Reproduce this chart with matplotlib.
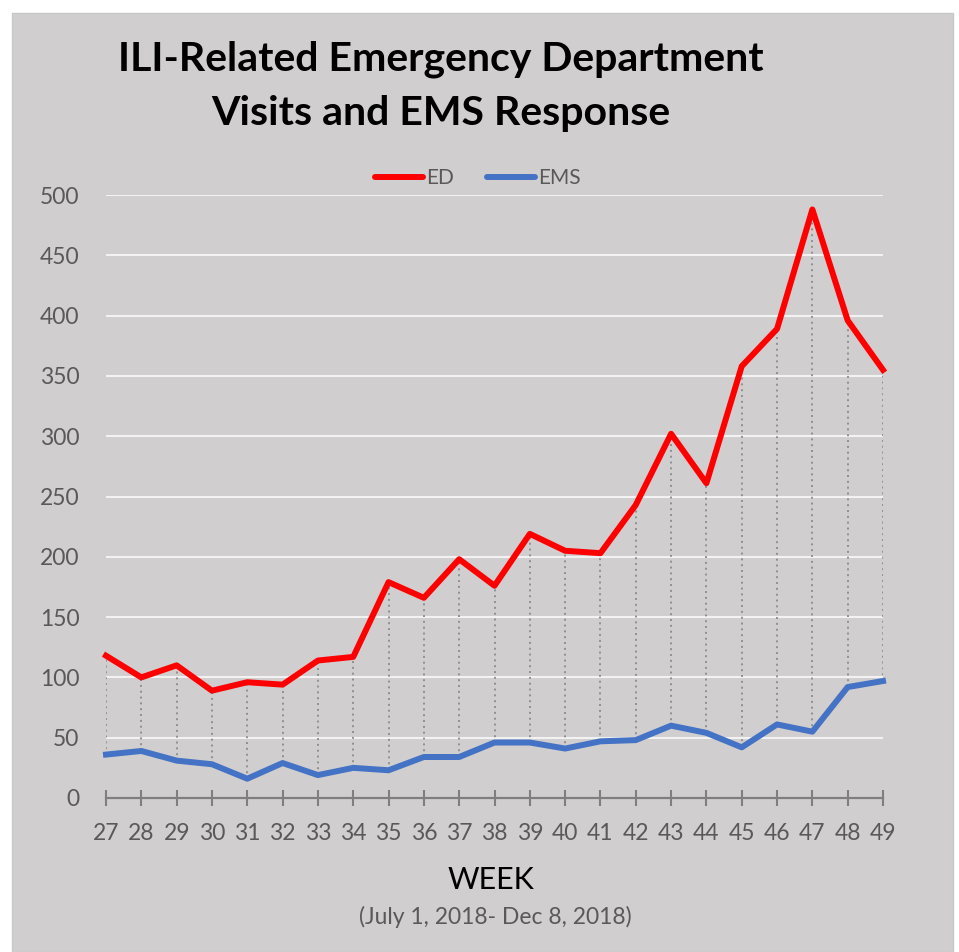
import matplotlib
matplotlib.use("Agg")
import matplotlib.pyplot as plt
from matplotlib.patches import Rectangle

weeks = list(range(27, 50))
ed = [118, 100, 110, 89, 96, 94, 114, 117, 179, 166, 198, 176, 219, 205, 203,
      243, 302, 261, 358, 389, 488, 396, 355]
ems = [36, 39, 31, 28, 16, 29, 19, 25, 23, 34, 34, 46, 46, 41, 47,
       48, 60, 54, 42, 61, 55, 92, 97]
yticks = [0, 50, 100, 150, 200, 250, 300, 350, 400, 450, 500]
title_lines = ["ILI-Related Emergency Department", "Visits and EMS Response"]
xlabel = "WEEK"
subtitle = "(July 1, 2018- Dec 8, 2018)"

plt.rcParams['font.family'] = ['Lato', 'DejaVu Sans']

W, H = 959, 952
fig = plt.figure(figsize=(W / 100, H / 100), dpi=100, facecolor='white')
bg = '#D0CECE'
fig.patches.append(Rectangle((12 / W, 0), (953 - 12) / W, 1 - 13 / H,
                             transform=fig.transFigure, facecolor=bg,
                             edgecolor='#C8C8C8', linewidth=1, zorder=-10))

ax = fig.add_axes([106 / W, 1 - 798 / H, (883 - 106) / W, (798 - 195) / H])
ax.set_zorder(1)
ax.patch.set_alpha(0)

ax.set_xlim(weeks[0], weeks[-1])
ax.set_ylim(0, 500)
ax.set_yticks(yticks)
ax.set_xticks(weeks)
ax.set_xticklabels([str(w) for w in weeks])

for s in ['left', 'right', 'top']:
    ax.spines[s].set_visible(False)
ax.spines['bottom'].set_color('#7F7F7F')
ax.spines['bottom'].set_linewidth(1.6)
ax.spines['bottom'].set_zorder(1)

ax.yaxis.grid(True, color='#F2F2F2', linewidth=1.5, zorder=0)
ax.set_axisbelow(True)
ax.tick_params(axis='y', length=0, pad=19, labelsize=16.5, labelcolor='#595959')
ax.tick_params(axis='x', direction='inout', length=12, width=1.5,
               color='#7F7F7F', pad=12, labelsize=16.5, labelcolor='#595959')

ax.vlines(weeks, ems, ed, colors='#909090', linestyles=(0, (1, 2)),
          linewidth=1.4, zorder=2)
ax.plot(weeks, ed, color='#FF0000', linewidth=4.3, label='ED', zorder=3,
        solid_joinstyle='round', clip_on=False)
ax.plot(weeks, ems, color='#4472C4', linewidth=4.3, label='EMS', zorder=3,
        solid_joinstyle='round', clip_on=False)

leg = ax.legend(loc='center', bbox_to_anchor=(478 / W, 1 - 178 / H),
                bbox_transform=fig.transFigure, ncol=2, frameon=False,
                fontsize=15, handlelength=2.3, handletextpad=0.15,
                columnspacing=1.6, labelcolor='#595959')
for line in leg.get_lines():
    line.set_linewidth(4.3)
    line.set_solid_capstyle('round')

fig.text(441 / W, 1 - 71 / H, title_lines[0], ha='center', va='baseline',
         fontsize=29.5, fontweight='bold', color='black')
fig.text(441 / W, 1 - 125 / H, title_lines[1], ha='center', va='baseline',
         fontsize=29.5, fontweight='bold', color='black')
fig.text(491 / W, 1 - 880 / H, xlabel, ha='center', va='center',
         fontsize=22, color='black')
fig.text(495 / W, 1 - 917 / H, subtitle, ha='center', va='center',
         fontsize=16.5, color='#595959')

fig.savefig('out.png', dpi=100, facecolor='white')
